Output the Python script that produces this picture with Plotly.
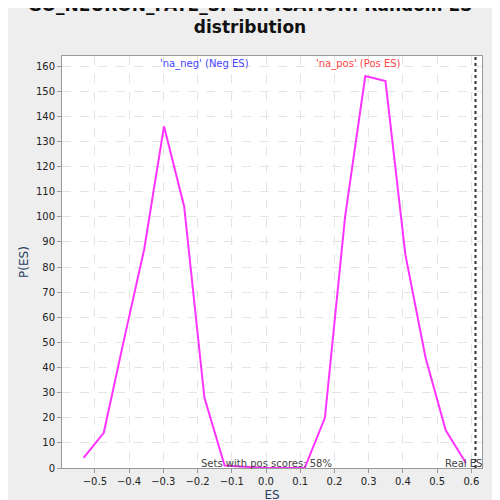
import plotly.graph_objects as go

es = [-0.533, -0.474, -0.415, -0.356, -0.298, -0.239, -0.180, -0.121, -0.062,
      -0.003, 0.055, 0.113, 0.172, 0.231, 0.290, 0.349, 0.407, 0.466, 0.525, 0.584]
pes = [4, 14, 51, 87, 136, 104, 28, 1, 0.5, 0, 0, 0, 20, 100, 156, 154, 85, 44, 15, 2]
real_es = 0.612

fig = go.Figure()
fig.add_trace(go.Scatter(x=es, y=pes, mode="lines", line=dict(color="#ff33ff", width=2)))
fig.add_shape(type="line", x0=real_es, x1=real_es, y0=0, y1=1, yref="paper",
              line=dict(color="#333333", width=2, dash="dot"))

grid = dict(showgrid=True, gridcolor="#e4e4e4", griddash="dash", zeroline=False,
            showline=True, linecolor="#999999", mirror=True, ticks="outside",
            ticklen=4, tickcolor="#999999", tickfont=dict(size=10, color="#222"))
fig.update_xaxes(range=[-0.596, 0.631], dtick=0.1, tickformat=".1f",
                 title=dict(text="ES", font=dict(size=12), standoff=4), **grid)
fig.update_yaxes(range=[0, 164], dtick=10,
                 title=dict(text="P(ES)", font=dict(size=12), standoff=4), **grid)

fig.add_annotation(x=-0.3, y=1, yref="paper", yanchor="top", text="'na_neg' (Neg ES)",
                   showarrow=False, font=dict(size=10, color="#4444ff"), xanchor="left", xshift=-5)
fig.add_annotation(x=0.14, y=1, yref="paper", yanchor="top", text="'na_pos' (Pos ES)",
                   showarrow=False, font=dict(size=10, color="#ff4444"), xanchor="left")
fig.add_annotation(x=0.0, y=0, yref="paper", yanchor="bottom", text="Sets with pos scores: 58%",
                   showarrow=False, font=dict(size=10, color="#444"), yshift=-3)
fig.add_annotation(x=real_es, y=0, yref="paper", yanchor="bottom", xanchor="right", text="Real ES",
                   showarrow=False, font=dict(size=10, color="#444"), xshift=8, yshift=-3)

fig.update_layout(
    autosize=True, showlegend=False,
    title=dict(text="<b>GO_NEURON_FATE_SPECIFICATION: Random ES<br>distribution</b>",
               x=0.5, y=0.995, yanchor="top", font=dict(size=17, color="#111")),
    margin=dict(l=54, r=10, t=48, b=40),
    paper_bgcolor="#eeeeee", plot_bgcolor="white",
    font=dict(family="DejaVu Sans"),
)
fig.write_html("out.html", default_height="100vh", default_width="100%")
